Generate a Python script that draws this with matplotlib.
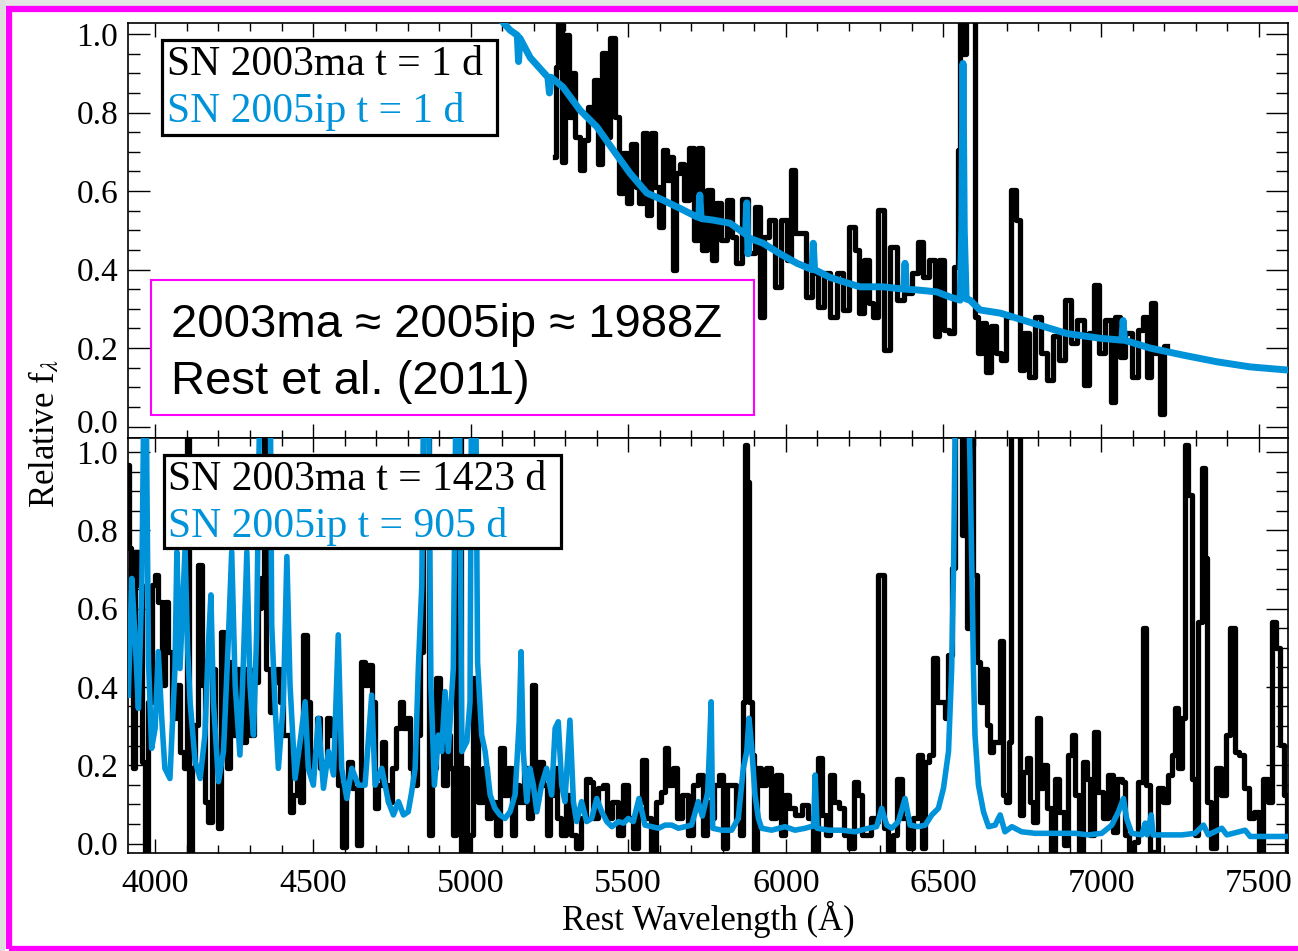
import numpy as np
import matplotlib
matplotlib.use('Agg')
import matplotlib.pyplot as plt
import matplotlib.transforms as mtransforms
from matplotlib.patches import Rectangle
from matplotlib.ticker import MultipleLocator

plt.rcParams['font.family'] = ['Liberation Serif', 'DejaVu Serif']
plt.rcParams['mathtext.fontset'] = 'stix'

BLUE = '#0093d9'

# SN 2005ip, t = 1 d  (wavelength in A, relative flux)
ip_early = [(5103, 1.03), (5125, 1.01), (5148, 0.997), (5152, 0.93), (5156, 0.99), (5189, 0.94),
            (5245, 0.89), (5250, 0.85), (5255, 0.89), (5293, 0.865), (5347, 0.806), (5400, 0.764),
            (5452, 0.705), (5505, 0.646), (5559, 0.595), (5610, 0.577), (5664, 0.556), (5718, 0.534),
            (5724, 0.533), (5727, 0.59), (5731, 0.53), (5769, 0.526), (5823, 0.518), (5872, 0.49),
            (5876, 0.57), (5880, 0.44), (5884, 0.48), (5928, 0.467), (5982, 0.44), (6035, 0.416),
            (6083, 0.40), (6087, 0.467), (6091, 0.40), (6140, 0.38), (6194, 0.366), (6235, 0.356),
            (6309, 0.356), (6374, 0.35), (6378, 0.416), (6382, 0.35), (6416, 0.348), (6479, 0.343),
            (6521, 0.33), (6553, 0.322), (6558, 0.50), (6562, 0.925), (6566, 0.50), (6572, 0.325),
            (6584, 0.322), (6616, 0.297), (6680, 0.289), (6785, 0.263), (6891, 0.237), (6996, 0.225),
            (7066, 0.22), (7070, 0.27), (7074, 0.22), (7155, 0.20), (7260, 0.182), (7367, 0.165),
            (7472, 0.152), (7590, 0.144)]

# SN 2003ma, t = 1 d
ma_early = [(5268, 0.687), (5273, 0.917), (5284, 1.1), (5294, 0.675), (5307, 0.997), (5315, 0.789),
            (5326, 0.90), (5339, 0.738), (5352, 0.654), (5366, 0.73), (5377, 0.815), (5387, 0.781),
            (5398, 0.883), (5408, 0.67), (5423, 0.951), (5434, 0.738), (5453, 0.989), (5466, 0.789),
            (5476, 0.594), (5490, 0.696), (5500, 0.569), (5518, 0.721), (5529, 0.611), (5540, 0.569),
            (5553, 0.747), (5566, 0.539), (5580, 0.747), (5590, 0.611), (5603, 0.509), (5617, 0.704),
            (5627, 0.628), (5638, 0.687), (5646, 0.399), (5657, 0.645), (5670, 0.67), (5682, 0.577),
            (5703, 0.709), (5714, 0.475), (5728, 0.709), (5740, 0.45), (5760, 0.602), (5772, 0.424),
            (5786, 0.569), (5802, 0.475), (5823, 0.577), (5836, 0.484), (5850, 0.416), (5872, 0.581),
            (5889, 0.441), (5913, 0.56), (5923, 0.28), (5941, 0.484), (5955, 0.526), (5973, 0.356),
            (5994, 0.526), (6011, 0.424), (6024, 0.654), (6037, 0.492), (6054, 0.492), (6071, 0.331),
            (6093, 0.39), (6111, 0.305), (6130, 0.39), (6151, 0.28), (6172, 0.39), (6193, 0.297),
            (6209, 0.509), (6230, 0.45), (6236, 0.288), (6257, 0.424), (6270, 0.314), (6283, 0.28),
            (6304, 0.552), (6320, 0.195), (6341, 0.458), (6363, 0.322), (6389, 0.34), (6410, 0.39),
            (6426, 0.471), (6442, 0.382), (6468, 0.424), (6479, 0.23), (6495, 0.424), (6511, 0.246),
            (6527, 0.238), (6540, 0.407), (6550, 0.704), (6558, 1.1), (6566, 0.95), (6574, 1.1),
            (6585, 1.1), (6597, 1.1), (6606, 0.28), (6616, 0.187), (6629, 0.263), (6643, 0.14),
            (6659, 0.255), (6675, 0.187), (6690, 0.17), (6706, 0.28), (6722, 0.603), (6738, 0.526),
            (6749, 0.144), (6764, 0.238), (6780, 0.127), (6801, 0.28), (6817, 0.187), (6839, 0.119),
            (6854, 0.23), (6876, 0.17), (6897, 0.322), (6913, 0.212), (6934, 0.271), (6955, 0.106),
            (6968, 0.238), (6987, 0.36), (7002, 0.187), (7024, 0.271), (7039, 0.063), (7052, 0.28),
            (7066, 0.178), (7087, 0.238), (7108, 0.127), (7124, 0.246), (7140, 0.28), (7150, 0.127),
            (7166, 0.314), (7179, 0.187), (7193, 0.033), (7209, 0.204)]

# SN 2003ma, t = 1423 d
ma_late = [(3914, 0.967), (3919, 0.754), (3925, 0.601), (3930, 0.192), (3941, 0.745), (3951, 0.660),
           (3962, 0.209), (3969, -0.021), (3983, 0.362), (3994, 0.660), (4004, 0.686), (4015, 0.618),
           (4025, 0.405), (4036, 0.618), (4046, 0.490), (4057, 0.320), (4073, 0.405), (4083, 0.235),
           (4096, 0.192), (4102, 1.2), (4111, -0.021), (4120, 0.192), (4131, 0.303), (4142, 0.711),
           (4152, 0.405), (4163, 0.107), (4173, 0.056), (4184, 0.447), (4194, 0.192), (4205, 0.039),
           (4212, 0.541), (4221, 0.362), (4231, 0.192), (4242, 0.464), (4253, 0.277), (4263, 0.447),
           (4279, 0.260), (4295, 0.447), (4305, 0.277), (4318, 0.413), (4332, 0.601), (4340, 0.677),
           (4348, 1.2), (4356, 0.447), (4369, 0.337), (4380, 0.413), (4390, 0.447), (4401, 0.362),
           (4411, 0.277), (4422, 0.277), (4432, 0.081), (4443, 0.124), (4454, 0.235), (4464, 0.107),
           (4475, 0.533), (4485, 0.362), (4496, 0.192), (4506, 0.235), (4517, 0.320), (4528, 0.192),
           (4538, 0.209), (4549, 0.320), (4559, 0.277), (4575, 0.294), (4586, 0.149), (4598, -0.01),
           (4608, 0.166), (4617, 0.209), (4633, 0.141), (4645, -0.005), (4660, 0.464), (4670, 0.405),
           (4681, 0.456), (4691, 0.362), (4702, 0.090), (4713, 0.149), (4723, 0.260), (4734, 0.149),
           (4744, 0.107), (4755, 0.192), (4771, 0.294), (4781, 0.362), (4792, 0.294), (4802, 0.320),
           (4813, 0.192), (4824, 0.149), (4834, 0.277), (4845, 0.490), (4852, 1.2), (4862, 1.2),
           (4871, 0.022), (4882, 0.192), (4898, 0.422), (4908, 0.277), (4919, 0.149), (4929, 0.277),
           (4940, 0.192), (4950, 0.022), (4957, 1.2), (4964, 1.2), (4974, -0.021), (4982, 0.192),
           (4993, -0.021), (5003, 0.022), (5012, 0.422), (5019, 0.277), (5030, 0.107), (5046, 0.192),
           (5056, 0.064), (5072, 0.107), (5088, 0.022), (5101, 0.243), (5109, 0.124), (5125, 0.192),
           (5136, 0.022), (5146, 0.149), (5162, 0.107), (5178, 0.192), (5188, 0.064), (5199, 0.405),
           (5210, 0.107), (5220, 0.209), (5236, 0.149), (5247, 0.022), (5257, 0.124), (5268, 0.192),
           (5278, 0.064), (5294, 0.022), (5310, 0.124), (5326, 0.022), (5342, -0.012), (5358, 0.064),
           (5374, 0.166), (5384, 0.158), (5395, 0.064), (5411, 0.141), (5426, 0.149), (5442, 0.064),
           (5458, 0.107), (5474, 0.022), (5490, 0.149), (5506, 0.064), (5522, -0.012), (5537, 0.107),
           (5548, 0.213), (5564, 0.064), (5580, -0.021), (5596, 0.107), (5611, 0.132), (5619, 0.243),
           (5633, 0.149), (5648, 0.192), (5664, 0.064), (5680, 0.124), (5696, 0.022), (5712, 0.149),
           (5728, 0.175), (5744, 0.022), (5754, 0.107), (5765, 0.064), (5781, 0.149), (5797, 0.175),
           (5807, -0.012), (5818, 0.149), (5834, 0.149), (5849, 0.056), (5860, 0.022), (5868, 0.362),
           (5875, 1.018), (5881, 0.924), (5888, 0.362), (5894, 0.226), (5902, -0.021), (5913, 0.192),
           (5929, 0.149), (5945, 0.192), (5961, 0.064), (5976, 0.175), (5992, 0.022), (6003, 0.124),
           (6019, 0.090), (6040, 0.073), (6061, 0.098), (6077, 0.064), (6093, -0.021), (6109, 0.218),
           (6119, 0.073), (6135, 0.022), (6146, 0.175), (6161, 0.107), (6177, 0.090), (6193, 0.022),
           (6209, -0.012), (6225, 0.158), (6235, 0.124), (6246, 0.022), (6262, 0.022), (6278, 0.064),
           (6288, 0.056), (6298, 0.686), (6306, 0.686), (6315, 0.039), (6331, -0.021), (6346, 0.022),
           (6362, 0.166), (6378, 0.064), (6394, -0.012), (6410, 0.064), (6426, 0.226), (6436, -0.012),
           (6447, 0.209), (6463, 0.226), (6473, 0.473), (6484, 0.362), (6500, 0.362), (6510, 0.320),
           (6521, 0.481), (6532, 0.703), (6542, 1.2), (6556, 1.2), (6563, 0.788), (6572, 1.2),
           (6579, 0.550), (6588, 1.2), (6600, 0.686), (6611, 0.464), (6621, 0.362), (6632, 0.447),
           (6643, 0.303), (6653, 0.235), (6664, 0.260), (6674, 0.260), (6683, 0.516), (6693, 0.124),
           (6704, 0.107), (6711, 0.260), (6719, 1.2), (6729, 1.2), (6740, 1.2), (6746, 0.073),
           (6759, 0.183), (6769, 0.218), (6780, 0.107), (6791, 0.056), (6801, 0.320), (6812, 0.141),
           (6822, 0.200), (6833, 0.090), (6849, -0.021), (6859, 0.166), (6875, 0.081), (6891, -0.004),
           (6902, 0.226), (6912, 0.277), (6923, 0.124), (6939, -0.021), (6949, 0.209), (6960, 0.166),
           (6972, 0.022), (6983, 0.286), (6997, 0.132), (7013, 0.064), (7029, 0.175), (7044, 0.030),
           (7060, 0.166), (7071, 0.158), (7081, 0.022), (7097, -0.021), (7113, 0.005), (7124, 0.158),
           (7140, 0.550), (7148, 0.149), (7161, -0.021), (7177, -0.021), (7187, 0.141), (7203, 0.107),
           (7219, 0.175), (7229, 0.226), (7240, 0.345), (7251, 0.192), (7261, 0.320), (7272, 1.018),
           (7282, 0.890), (7293, 0.166), (7304, 0.022), (7314, 0.567), (7325, 0.958), (7332, 0.728),
           (7340, 0.107), (7356, -0.012), (7372, 0.192), (7388, 0.124), (7404, 0.277), (7417, 0.550),
           (7430, 0.235), (7446, 0.226), (7462, 0.141), (7478, 0.064), (7494, 0.081), (7510, -0.021),
           (7520, 0.166), (7536, 0.107), (7550, 0.567), (7560, 0.499), (7573, 0.252), (7586, 0.124),
           (7594, -0.021)]

# SN 2005ip, t = 905 d
ip_late = [(3914, 0.379), (3925, 0.677), (3935, 0.533), (3946, 0.345), (3957, 0.669), (3964, 1.2),
           (3970, 1.2), (3978, 0.464), (3988, 0.243), (3999, 0.294), (4009, 0.490), (4020, 0.320),
           (4030, 0.192), (4046, 0.166), (4062, 0.447), (4068, 0.745), (4078, 0.447), (4094, 0.754),
           (4102, 0.500), (4110, 0.362), (4126, 0.209), (4142, 0.166), (4157, 0.277), (4168, 0.507),
           (4176, 0.635), (4184, 0.362), (4200, 0.158), (4216, 0.235), (4231, 0.515), (4242, 0.745),
           (4253, 0.405), (4268, 0.226), (4279, 0.464), (4290, 0.745), (4300, 0.405), (4311, 0.277),
           (4321, 0.533), (4332, 1.2), (4348, 1.2), (4364, 1.2), (4369, 0.558), (4380, 0.345),
           (4390, 0.192), (4406, 0.362), (4417, 0.733), (4427, 0.405), (4443, 0.166), (4459, 0.260),
           (4475, 0.362), (4485, 0.192), (4501, 0.149), (4517, 0.320), (4533, 0.141), (4549, 0.235),
           (4565, 0.175), (4580, 0.533), (4591, 0.192), (4607, 0.115), (4623, 0.192), (4644, 0.149),
           (4665, 0.149), (4686, 0.379), (4697, 0.149), (4718, 0.192), (4739, 0.107), (4755, 0.073),
           (4771, 0.107), (4787, 0.073), (4802, 0.081), (4813, 0.132), (4824, 0.192), (4834, 0.447),
           (4845, 0.660), (4852, 1.2), (4866, 1.2), (4874, 0.405), (4885, 0.149), (4898, 0.277),
           (4908, 0.235), (4919, 0.388), (4929, 0.235), (4945, 0.447), (4954, 1.2), (4964, 1.2),
           (4972, 0.235), (4988, 0.260), (4998, 0.362), (5003, 1.2), (5016, 1.2), (5022, 0.464),
           (5035, 0.277), (5046, 0.235), (5062, 0.124), (5077, 0.090), (5093, 0.073), (5109, 0.064),
           (5125, 0.081), (5141, 0.124), (5154, 0.311), (5160, 0.490), (5167, 0.235), (5178, 0.107),
           (5188, 0.192), (5199, 0.149), (5210, 0.081), (5225, 0.149), (5241, 0.192), (5257, 0.124),
           (5268, 0.294), (5278, 0.311), (5289, 0.149), (5299, 0.107), (5315, 0.315), (5326, 0.107),
           (5336, 0.056), (5352, 0.107), (5368, 0.056), (5384, 0.064), (5400, 0.115), (5416, 0.081),
           (5432, 0.056), (5448, 0.043), (5469, 0.056), (5485, 0.052), (5500, 0.064), (5516, 0.056),
           (5534, 0.115), (5553, 0.047), (5574, 0.043), (5596, 0.039), (5617, 0.047), (5638, 0.047),
           (5659, 0.039), (5680, 0.043), (5701, 0.047), (5722, 0.107), (5735, 0.070), (5752, 0.130),
           (5758, 0.250), (5763, 0.362), (5768, 0.039), (5797, 0.034), (5828, 0.034), (5849, 0.064),
           (5865, 0.192), (5876, 0.235), (5883, 0.320), (5892, 0.243), (5902, 0.124), (5913, 0.064),
           (5923, 0.039), (5955, 0.034), (5997, 0.043), (6029, 0.034), (6061, 0.039), (6088, 0.045),
           (6093, 0.175), (6099, 0.039), (6135, 0.034), (6177, 0.034), (6220, 0.030), (6262, 0.039),
           (6288, 0.043), (6304, 0.090), (6320, 0.047), (6336, 0.039), (6357, 0.056), (6378, 0.115),
           (6394, 0.047), (6420, 0.043), (6442, 0.047), (6463, 0.073), (6484, 0.090), (6500, 0.141),
           (6516, 0.235), (6526, 0.447), (6532, 0.703), (6539, 1.2), (6560, 1.2), (6579, 1.2),
           (6590, 0.703), (6595, 0.447), (6600, 0.277), (6611, 0.149), (6627, 0.081), (6643, 0.043),
           (6664, 0.047), (6674, 0.064), (6680, 0.073), (6695, 0.030), (6717, 0.043), (6748, 0.030),
           (6791, 0.026), (6833, 0.026), (6875, 0.026), (6918, 0.026), (6960, 0.022), (7002, 0.026),
           (7034, 0.047), (7055, 0.081), (7071, 0.115), (7081, 0.064), (7097, 0.026), (7129, 0.022),
           (7140, 0.052), (7146, 0.022), (7159, 0.073), (7165, 0.022), (7214, 0.022), (7256, 0.022),
           (7298, 0.026), (7325, 0.047), (7340, 0.022), (7383, 0.039), (7399, 0.022), (7457, 0.034),
           (7473, 0.018), (7531, 0.018), (7594, 0.018)]

x_ticks = [4000, 4500, 5000, 5500, 6000, 6500, 7000, 7500]
y_ticks = [0.0, 0.2, 0.4, 0.6, 0.8, 1.0]

W, H = 1298, 951
fig = plt.figure(figsize=(W / 100, H / 100), dpi=100)

# screenshot surroundings outside the magenta frame
fig.patches.append(Rectangle((0, 1 - 6.5 / H), 1, 6.5 / H, transform=fig.transFigure,
                             fc='#e4e4e4', ec='none', zorder=0))
fig.patches.append(Rectangle((0, 0), 5 / W, 1, transform=fig.transFigure,
                             fc='#dedede', ec='none', zorder=0))

ax1 = fig.add_axes([128 / W, 1 - 437.7 / H, 1160 / W, 415 / H])
ax2 = fig.add_axes([128 / W, 1 - 853.3 / H, 1160 / W, 415.6 / H])

w, f = np.array(ma_early).T
ax1.plot(w, f, color='black', lw=3.8, drawstyle='steps-mid', zorder=2)
w, f = np.array(ip_early).T
ax1.plot(w, f, color=BLUE, lw=5.0, zorder=3)

w, f = np.array(ma_late).T
ax2.plot(w, f, color='black', lw=3.8, drawstyle='steps-mid', zorder=2)
w, f = np.array(ip_late).T
ax2.plot(w, f, color=BLUE, lw=4.0, zorder=3)

ax1.set_ylim(-0.0285, 1.029)
ax2.set_ylim(-0.025, 1.0365)
for ax in (ax1, ax2):
    ax.set_xlim(3913, 7593)
    ax.set_xticks(x_ticks)
    ax.set_xticklabels([str(t) for t in x_ticks])
    ax.xaxis.set_minor_locator(MultipleLocator(100))
    ax.set_yticks(y_ticks)
    ax.set_yticklabels(['%.1f' % t for t in y_ticks])
    ax.yaxis.set_minor_locator(MultipleLocator(0.05))
    ax.tick_params(which='both', direction='in', top=True, right=True, width=1.0, colors='black')
    ax.tick_params(axis='y', which='major', length=16, labelsize=24, pad=7)
    ax.tick_params(axis='y', which='minor', length=8.5)
    ax.tick_params(axis='x', which='major', length=10, labelsize=24.5, pad=11)
    ax.tick_params(axis='x', which='minor', length=6)
    for s in ax.spines.values():
        s.set_linewidth(1.2)
ax1.tick_params(labelbottom=False)

# lift the top panel's "0.0" a little, as in the original
lbl = ax1.get_yticklabels()[0]
lbl.set_transform(lbl.get_transform() + mtransforms.ScaledTranslation(0, 5 / 100, fig.dpi_scale_trans))

# legend boxes
def legend_box(ax, x0, y0, x1, y1, lines, xt, ys):
    ax.add_patch(Rectangle((x0, y0), x1 - x0, y1 - y0, transform=ax.transAxes,
                           fc='white', ec='black', lw=2.3, zorder=5))
    for (txt, col), yb in zip(lines, ys):
        ax.text(xt, yb, txt, transform=ax.transAxes, color=col, fontsize=30,
                va='baseline', ha='left', zorder=6)

legend_box(ax1, 0.0293, 0.729, 0.318, 0.958,
           [('SN 2003ma t = 1 d', 'black'), ('SN 2005ip t = 1 d', BLUE)], 0.0336, [0.874, 0.761])
legend_box(ax2, 0.031, 0.735, 0.373, 0.958,
           [('SN 2003ma t = 1423 d', 'black'), ('SN 2005ip t = 905 d', BLUE)], 0.0345, [0.874, 0.762])

# annotation box
fig.patches.append(Rectangle((151 / W, 1 - 415 / H), 603 / W, 135 / H, transform=fig.transFigure,
                             fc='white', ec='#ff00ff', lw=1.5, zorder=10))
fig.text(171 / W, 1 - 337 / H, '2003ma \u2248 2005ip \u2248 1988Z', fontsize=34,
         family=['Liberation Sans', 'DejaVu Sans'], va='baseline', zorder=11)
fig.text(171 / W, 1 - 394 / H, 'Rest et al. (2011)', fontsize=34,
         family=['Liberation Sans', 'DejaVu Sans'], va='baseline', zorder=11)

fig.text(45 / W, 1 - 433 / H, 'Relative f$_{\\lambda}$', rotation=90, fontsize=25,
         ha='center', va='center')
fig.text(708 / W, 1 - 930 / H, 'Rest Wavelength (\u00c5)', fontsize=25, ha='center', va='baseline')

# magenta outer frame
fig.patches.append(Rectangle((8.5 / W, 1 - 949 / H), 1400 / W, (949 - 9.2) / H,
                             transform=fig.transFigure, fc='none', ec='#ff00ff', lw=4.5, zorder=20))

fig.savefig('out.png', dpi=100)
